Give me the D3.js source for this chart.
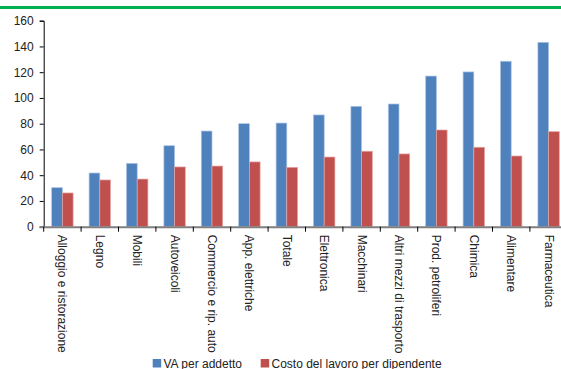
<!DOCTYPE html>
<html>
<head>
<meta charset="utf-8">
<script src="https://cdn.jsdelivr.net/npm/d3@7"></script>
<style>
  html, body { margin: 0; padding: 0; background: #fff; }
  svg { display: block; font-family: "Liberation Sans Narrow", "Arial Narrow", "Liberation Sans", Arial, sans-serif; }
</style>
</head>
<body>
<svg id="chart" width="561" height="369"></svg>
<script>
// Sector labels, ordered by value added per employee
const categories = [
  "Alloggio e ristorazione", "Legno", "Mobili", "Autoveicoli",
  "Commercio e rip. auto", "App. elettriche", "Totale", "Elettronica",
  "Macchinari", "Altri mezzi di trasporto", "Prod. petroliferi",
  "Chimica", "Alimentare", "Farmaceutica"
];
// Value added per employee
const vaPerAddetto = [30.3, 41.7, 49.2, 62.9, 74.3, 80.0, 80.5, 86.8, 93.5, 95.3, 117.0, 120.2, 128.5, 143.2];
// Labour cost per employee
const costoLavoro = [26.2, 36.3, 37.0, 46.4, 47.1, 50.3, 46.1, 54.1, 58.6, 56.5, 75.1, 61.7, 54.9, 73.8];
const yTicks = [0, 20, 40, 60, 80, 100, 120, 140, 160];
const seriesNames = ["VA per addetto", "Costo del lavoro per dipendente"];
const seriesColors = ["#4F81BD", "#C0504D"];
const seriesEdges = ["#A9C4E6", "#E3A3A1"];

const svg = d3.select("#chart");

// Green rule across the top
svg.append("rect").attr("x", 0).attr("y", 6).attr("width", 561).attr("height", 3).attr("fill", "#00B050");

const x0 = 43.7, y0 = 226.7;
const x = d3.scaleBand().domain(categories).range([x0, x0 + 37.4 * categories.length]).padding(0);
const y = d3.scaleLinear().domain([0, 160]).range([y0, 20.7]);
const barW = 10.7;

// Bars: the two series sit side by side, centred in each band
const data = categories.map((c, i) => ({ c, v: [vaPerAddetto[i], costoLavoro[i]] }));
const g = svg.append("g");
data.forEach(d => {
  d.v.forEach((val, s) => {
    const bx = x(d.c) + x.bandwidth() / 2 + (s === 0 ? -barW : 0);
    g.append("rect")
      .attr("x", bx)
      .attr("y", y(val))
      .attr("width", barW)
      .attr("height", y(0) - y(val))
      .attr("fill", seriesColors[s])
      .attr("stroke", seriesEdges[s])
      .attr("stroke-width", 0.7);
  });
});

// Y axis
const yAxis = d3.axisLeft(y).tickValues(yTicks).tickSize(4).tickPadding(6);
const ya = svg.append("g").attr("transform", `translate(${x0},0)`).call(yAxis);
ya.select(".domain").attr("stroke", "#000").attr("stroke-width", 1);
ya.selectAll(".tick line").attr("stroke", "#000");
ya.selectAll("text").attr("font-size", 12).attr("fill", "#222").attr("font-family", "inherit");

// X axis: line plus boundary ticks
const xa = svg.append("g");
xa.append("line").attr("x1", x0 - 4).attr("x2", 561).attr("y1", y0 + 0.5).attr("y2", y0 + 0.5)
  .attr("stroke", "#7F7F7F").attr("stroke-width", 2);
d3.range(categories.length + 1).forEach(i => {
  const tx = x0 + i * x.step();
  xa.append("line").attr("x1", tx).attr("x2", tx).attr("y1", y0).attr("y2", y0 + 5)
    .attr("stroke", "#000").attr("stroke-width", 1);
});
xa.selectAll("text.cat").data(categories).enter().append("text")
  .attr("class", "cat")
  .attr("transform", d => `translate(${x(d) + x.bandwidth() / 2 - 4},${y0 + 8}) rotate(90)`)
  .attr("font-size", 12)
  .attr("fill", "#222")
  .attr("text-anchor", "start")
  .text(d => d);

// Legend
const legend = [
  { name: seriesNames[0], sx: 152.7, tx: 163.5 },
  { name: seriesNames[1], sx: 260.7, tx: 271.5 }
];
legend.forEach((l, i) => {
  svg.append("rect").attr("x", l.sx).attr("y", 359).attr("width", 8.5).attr("height", 8.5).attr("fill", seriesColors[i]);
  svg.append("text").attr("x", l.tx).attr("y", 367.5).attr("font-size", 12).attr("fill", "#222").text(l.name);
});
</script>
</body>
</html>
